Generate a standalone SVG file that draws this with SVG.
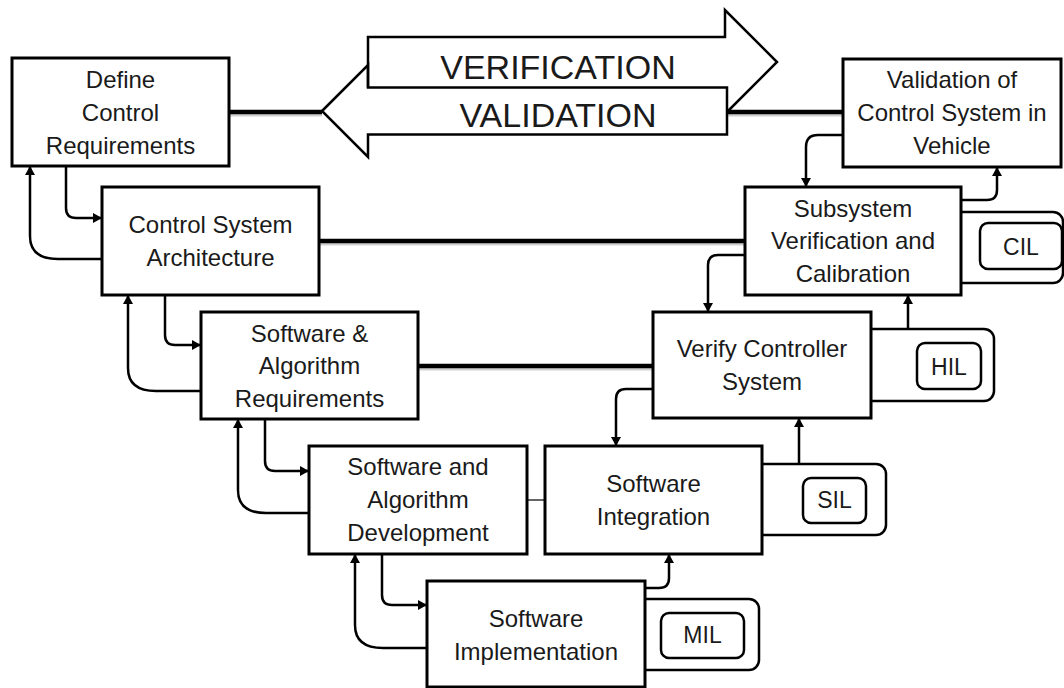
<svg xmlns="http://www.w3.org/2000/svg" width="1064" height="688" viewBox="0 0 1064 688">
<style>
.box{fill:#fff;stroke:#000;stroke-width:3}
.t{font-family:"Liberation Sans",Arial,sans-serif;font-size:24px;fill:#1a1a1a;text-anchor:middle}
.big{font-family:"Liberation Sans",Arial,sans-serif;font-size:34px;fill:#1a1a1a;text-anchor:middle}
.lbl{font-family:"Liberation Sans",Arial,sans-serif;font-size:23px;fill:#1a1a1a;text-anchor:middle}
.fb{fill:none;stroke:#000;stroke-width:2.5;marker-end:url(#ah)}
.thick{fill:none;stroke:#000;stroke-width:4.5}
.shadow{fill:none;stroke:#999;stroke-width:4;opacity:0.45}
.brk{fill:#fff;stroke:#000;stroke-width:2.5}
.tag{fill:#fff;stroke:#000;stroke-width:2.5}
.arr{fill:#fff;stroke:#000;stroke-width:2.5;stroke-linejoin:miter}
</style>
<defs>
<marker id="ah" markerUnits="userSpaceOnUse" markerWidth="10" markerHeight="10" refX="9" refY="5" orient="auto">
<path d="M0,0 L9,5 L0,10 z" fill="#000"/>
</marker>
</defs>
<rect width="1064" height="688" fill="#fff"/>

<g id="connectors">
<path class="shadow" d="M229,114.5 H322 M727,114.5 H843 M319,243.5 H745 M418,368.5 H653"/>
<path class="thick" d="M229,112 H322"/>
<path class="thick" d="M727,112 H843"/>
<path class="thick" d="M319,241 H745"/>
<path class="thick" d="M418,366 H653"/>
<path d="M527,500 H545" fill="none" stroke="#000" stroke-width="1.2"/>
<path class="fb" d="M66,166 V208 Q66,218 76,218 H102"/>
<path class="fb" d="M102,259 H58 C40,259 30,252 30,236 V166"/>
<path class="fb" d="M165,295 V335 Q165,345 175,345 H201"/>
<path class="fb" d="M201,391 H156 C138,391 128,384 128,368 V295"/>
<path class="fb" d="M265,419 V461 Q265,471 275,471 H309"/>
<path class="fb" d="M309,513 H266 C248,513 238,506 238,490 V419"/>
<path class="fb" d="M382,554 V595 Q382,605 392,605 H427"/>
<path class="fb" d="M427,648 H383 C365,648 355,641 355,625 V554"/>
<path class="fb" d="M645,588 H659 Q669,588 669,578 V554"/>
<path class="fb" d="M762,479 H789 Q799,479 799,469 V418"/>
<path class="fb" d="M653,389 H626 Q616,389 616,399 V446"/>
<path class="fb" d="M871,351 H898 Q908,351 908,341 V295"/>
<path class="fb" d="M745,255 H718 Q708,255 708,265 V312"/>
<path class="fb" d="M961,200 H987 Q997,200 997,190 V167"/>
<path class="fb" d="M843,135 H818 Q806,135 806,147 V187"/>
</g>

<g id="vv-arrows">
<path d="M368,37 H725 V10 L777,62 L727,112 V87.5 H368 Z" fill="#fff"/>
<path class="arr" d="M322,111 L368,65 V87.5 H727 V134.5 H368 V157 Z"/>
<path d="M368,87.5 V37 H725 V10 L777,62 L727,112" fill="none" stroke="#000" stroke-width="2.5" stroke-linejoin="miter"/>
<text class="big" x="558" y="79">VERIFICATION</text>
<text class="big" x="558" y="127">VALIDATION</text>
</g>

<g id="cil">
<rect class="brk" x="930" y="212" width="133" height="71" rx="10"/>
<rect class="tag" x="980" y="223" width="82" height="46" rx="8"/>
<text class="lbl" x="1021" y="255">CIL</text>
</g>
<g id="hil">
<rect class="brk" x="850" y="329" width="144" height="72" rx="10"/>
<rect class="tag" x="917" y="343" width="64" height="46" rx="8"/>
<text class="lbl" x="949" y="375">HIL</text>
</g>
<g id="sil">
<rect class="brk" x="740" y="464" width="146" height="71" rx="10"/>
<rect class="tag" x="803" y="478" width="63" height="45" rx="8"/>
<text class="lbl" x="834.5" y="508">SIL</text>
</g>
<g id="mil">
<rect class="brk" x="620" y="599" width="139" height="71" rx="10"/>
<rect class="tag" x="661" y="613" width="83" height="45" rx="8"/>
<text class="lbl" x="702.5" y="643">MIL</text>
</g>

<g id="define-control-requirements">
<rect class="box" x="12" y="58" width="217" height="108"/>
<text class="t" x="120.5" y="88">Define</text>
<text class="t" x="120.5" y="121">Control</text>
<text class="t" x="120.5" y="154">Requirements</text>
</g>
<g id="control-system-architecture">
<rect class="box" x="102" y="187" width="217" height="108"/>
<text class="t" x="210.5" y="233">Control System</text>
<text class="t" x="210.5" y="266">Architecture</text>
</g>
<g id="software-algorithm-requirements">
<rect class="box" x="201" y="312" width="217" height="107"/>
<text class="t" x="309.5" y="342">Software &amp;</text>
<text class="t" x="309.5" y="374">Algorithm</text>
<text class="t" x="309.5" y="407">Requirements</text>
</g>
<g id="software-algorithm-development">
<rect class="box" x="309" y="446" width="218" height="108"/>
<text class="t" x="418" y="475">Software and</text>
<text class="t" x="418" y="508">Algorithm</text>
<text class="t" x="418" y="541">Development</text>
</g>
<g id="software-implementation">
<rect class="box" x="427" y="581" width="218" height="106"/>
<text class="t" x="536" y="627">Software</text>
<text class="t" x="536" y="660">Implementation</text>
</g>
<g id="software-integration">
<rect class="box" x="545" y="446" width="217" height="108"/>
<text class="t" x="653.5" y="492">Software</text>
<text class="t" x="653.5" y="525">Integration</text>
</g>
<g id="verify-controller-system">
<rect class="box" x="653" y="312" width="218" height="106"/>
<text class="t" x="762" y="357">Verify Controller</text>
<text class="t" x="762" y="390">System</text>
</g>
<g id="subsystem-verification">
<rect class="box" x="745" y="187" width="216" height="108"/>
<text class="t" x="853" y="217">Subsystem</text>
<text class="t" x="853" y="249">Verification and</text>
<text class="t" x="853" y="282">Calibration</text>
</g>
<g id="validation-in-vehicle">
<rect class="box" x="843" y="59" width="218" height="108"/>
<text class="t" x="952" y="88">Validation of</text>
<text class="t" x="952" y="121">Control System in</text>
<text class="t" x="952" y="154">Vehicle</text>
</g>
</svg>
